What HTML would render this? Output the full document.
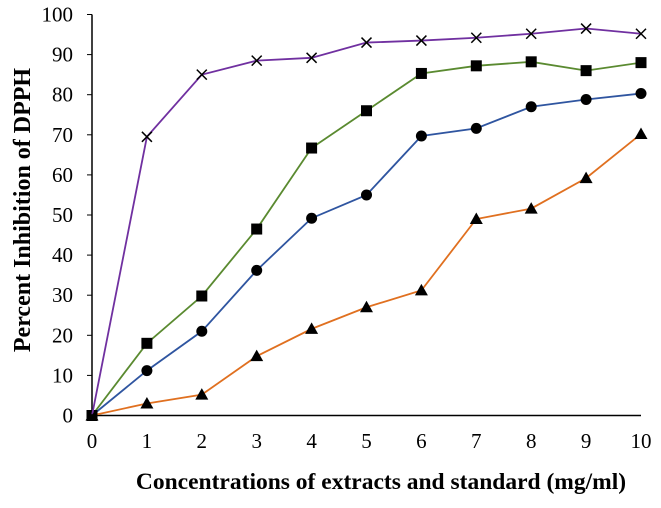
<!DOCTYPE html>
<html><head><meta charset="utf-8"><style>
body{margin:0;background:#fff;}
svg text{font-family:"Liberation Serif",serif;}
</style></head><body>
<svg id="chart" width="661" height="503" xmlns="http://www.w3.org/2000/svg"></svg>
<script>
const xCats=[0,1,2,3,4,5,6,7,8,9,10];
const yTicks=[0,10,20,30,40,50,60,70,80,90,100];
const seriesStandard=[0,69.5,85,88.5,89.2,93,93.5,94.2,95.2,96.5,95.2];
const seriesSquare=[0,18,29.8,46.5,66.7,76,85.3,87.2,88.2,86,88];
const seriesCircle=[0,11.2,21,36.2,49.2,55,69.7,71.6,77,78.8,80.3];
const seriesTriangle=[0,3,5.2,14.8,21.6,27,31.2,49,51.6,59.2,70.2];
const NS="http://www.w3.org/2000/svg";
const svg=document.getElementById('chart');
const X=v=>92+v*54.9;
const Y=v=>415.5-v*4.01;
function mk(t,a,p){const e=document.createElementNS(NS,t);for(const k in a)e.setAttribute(k,a[k]);(p||svg).appendChild(e);return e;}
let ax=mk('line',{x1:X(0),y1:Y(0),x2:X(10),y2:Y(0),stroke:'#000','stroke-width':1.5});

let ay=mk('line',{x1:X(0),y1:Y(0),x2:X(0),y2:Y(100),stroke:'#000','stroke-width':1.5});

yTicks.forEach(t=>{
 mk('line',{x1:X(0)-5,y1:Y(t),x2:X(0),y2:Y(t),stroke:'#000','stroke-width':1});
 const tx=mk('text',{x:X(0)-19,y:Y(t)+7,'text-anchor':'end','font-size':21});
 tx.textContent=t;
 
});
xCats.forEach(c=>{
 const tx=mk('text',{x:X(c),y:448,'text-anchor':'middle','font-size':21});
 tx.textContent=c;
 
});
const xt=mk('text',{x:381,y:489,'text-anchor':'middle','font-size':23.5,'font-weight':'bold'});
xt.textContent='Concentrations of extracts and standard (mg/ml)';

const yt=mk('text',{x:0,y:0,'text-anchor':'middle','font-size':24,'font-weight':'bold',transform:'translate(30,210) rotate(-90)'});
yt.textContent='Percent Inhibition of DPPH';

function series(vals,color,marker,name){
 const g=mk('g',{});
 
 mk('polyline',{points:vals.map((v,i)=>X(xCats[i])+','+Y(v)).join(' '),fill:'none',stroke:color,'stroke-width':1.8},g);
 vals.forEach((v,i)=>{
  const x=X(xCats[i]),y=Y(v);let m;
  if(marker==='x'){m=mk('path',{d:`M${x-5},${y-5}L${x+5},${y+5}M${x-5},${y+5}L${x+5},${y-5}`,stroke:'#000','stroke-width':1.5},g);}
  else if(marker==='sq'){m=mk('rect',{x:x-5.5,y:y-5.5,width:11,height:11,fill:'#000'},g);}
  else if(marker==='ci'){m=mk('circle',{cx:x,cy:y,r:5.5,fill:'#000'},g);}
  else {m=mk('path',{d:`M${x},${y-6.5}L${x+6.5},${y+5}L${x-6.5},${y+5}Z`,fill:'#000'},g);}
  
 });
}
series(seriesTriangle,'#E07020','tri','series-triangle');
series(seriesCircle,'#2F55A0','ci','series-circle');
series(seriesSquare,'#5A8A30','sq','series-square');
series(seriesStandard,'#7030A0','x','series-standard');
</script>
</body></html>
